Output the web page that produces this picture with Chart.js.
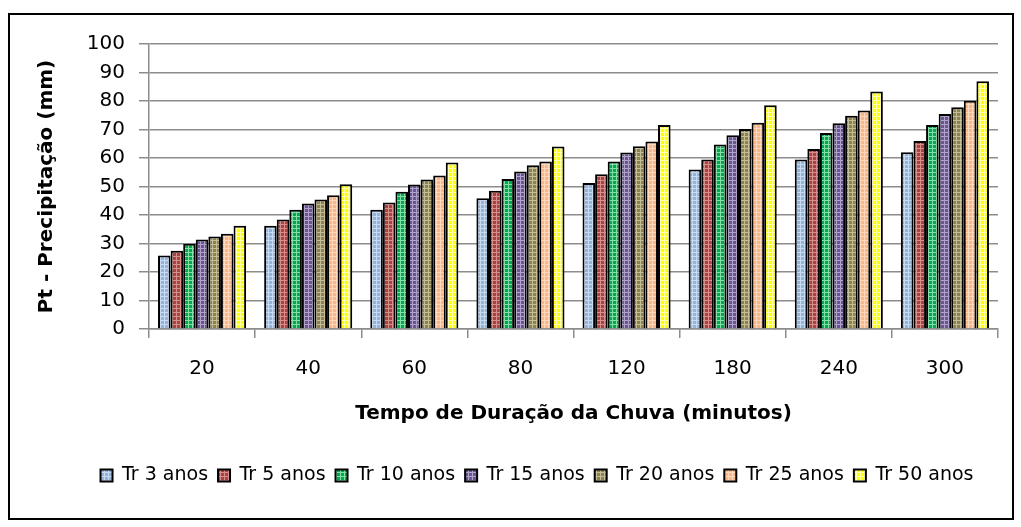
<!DOCTYPE html>
<html>
<head>
<meta charset="utf-8">
<script src="https://cdn.jsdelivr.net/npm/chart.js@4.4.1/dist/chart.umd.min.js"></script>
<style>
  html, body { margin: 0; padding: 0; background: #fff; }
  #wrap { position: relative; width: 1021px; height: 527px; }
</style>
</head>
<body>
<div id="wrap"><canvas id="chuvaChart" width="1021" height="527"></canvas></div>
<script>
/* Precipitação x duração da chuva, por tempo de retorno */
const categorias = ['20', '40', '60', '80', '120', '180', '240', '300'];
const tr3 = [25.8, 36.2, 41.8, 45.9, 51.2, 56.0, 59.5, 62.0];
const tr5 = [27.5, 38.4, 44.4, 48.5, 54.3, 59.5, 63.2, 66.0];
const tr10 = [29.9, 41.8, 48.2, 52.6, 58.8, 64.7, 68.8, 71.6];
const tr15 = [31.4, 44.0, 50.7, 55.3, 61.9, 68.0, 72.2, 75.4];
const tr20 = [32.5, 45.4, 52.5, 57.5, 64.1, 70.2, 74.8, 77.8];
const tr25 = [33.4, 46.9, 53.9, 58.8, 65.8, 72.4, 76.7, 80.1];
const tr50 = [36.2, 50.8, 58.4, 64.0, 71.6, 78.5, 83.3, 86.9];
const yTicks = [0, 10, 20, 30, 40, 50, 60, 70, 80, 90, 100];

const FONT = '"DejaVu Sans", sans-serif';

function makePattern(base, light) {
    const c = document.createElement('canvas');
    c.width = 4; c.height = 4;
    const g = c.getContext('2d');
    g.fillStyle = base; g.fillRect(0, 0, 4, 4);
    g.fillStyle = light; g.fillRect(0, 0, 4, 1); g.fillRect(0, 0, 1, 4);
    return g.createPattern(c, 'repeat');
}

const series = [
    { label: 'Tr 3 anos', data: tr3, base: '#95B3D7', light: '#C9DBF2' },
    { label: 'Tr 5 anos', data: tr5, base: '#A8433F', light: '#D68F8C' },
    { label: 'Tr 10 anos', data: tr10, base: '#00A84F', light: '#86DDA8' },
    { label: 'Tr 15 anos', data: tr15, base: '#685591', light: '#B0A2C8' },
    { label: 'Tr 20 anos', data: tr20, base: '#8C8250', light: '#C4BD97' },
    { label: 'Tr 25 anos', data: tr25, base: '#F8B68A', light: '#FCD8BD' },
    { label: 'Tr 50 anos', data: tr50, base: '#FFFF00', light: '#FFFFB0' }
];

/* moldura externa + posição horizontal da legenda */
const framePlugin = {
    id: 'frame',
    afterLayout(chart) {
        const lg = chart.legend;
        if (!lg) return;
        const target = 537;
        const shift = target - (lg.left + lg.right) / 2;
        lg.left += shift; lg.right += shift;
    },
    afterDraw(chart) {
        const ctx = chart.ctx;
        ctx.save();
        ctx.strokeStyle = '#000';
        ctx.lineWidth = 2;
        ctx.strokeRect(9, 14, 1004, 505);
        ctx.restore();
    }
};

const ctx = document.getElementById('chuvaChart').getContext('2d');
new Chart(ctx, {
    type: 'bar',
    data: {
        labels: categorias,
        datasets: series.map(s => ({
            label: s.label,
            data: s.data,
            backgroundColor: makePattern(s.base, s.light),
            borderColor: '#000',
            borderWidth: 2,
            borderSkipped: 'bottom',
            categoryPercentage: 0.83,
            barPercentage: 1.0
        }))
    },
    options: {
        responsive: false,
        animation: false,
        layout: { padding: { left: 10, top: 44, right: 23, bottom: 32 } },
        scales: {
            x: {
                grid: { drawOnChartArea: false, drawTicks: true, tickLength: 9, color: '#8c8c8c', lineWidth: 1.5, offset: true },
                border: { color: '#8c8c8c', width: 1.5 },
                ticks: { color: '#000', font: { family: FONT, size: 20 }, padding: 19 },
                title: { display: true, text: 'Tempo de Duração da Chuva (minutos)', color: '#000',
                         font: { family: FONT, size: 20, weight: 'bold' }, padding: { top: 0, bottom: 30 } },
                afterFit: (scale) => { scale.height = 127; }
            },
            y: {
                min: 0, max: 100,
                afterBuildTicks: (scale) => { scale.ticks = yTicks.map(v => ({ value: v })); },
                grid: { color: '#8c8c8c', lineWidth: 1.5, tickLength: 10 },
                border: { color: '#8c8c8c', width: 1.5 },
                ticks: { color: '#000', font: { family: FONT, size: 20 }, padding: 14 },
                title: { display: true, text: 'Pt - Precipitação (mm)', color: '#000',
                         font: { family: FONT, size: 20, weight: 'bold' }, padding: { top: 25 } },
                afterFit: (scale) => { scale.width = 139; }
            }
        },
        plugins: {
            legend: {
                position: 'bottom',
                labels: {
                    color: '#000',
                    font: { family: FONT, size: 19 },
                    boxWidth: 12, boxHeight: 12,
                    padding: 10,
                    useBorderRadius: false
                }
            },
            tooltip: { enabled: false }
        }
    },
    plugins: [framePlugin]
});
</script>
</body>
</html>
